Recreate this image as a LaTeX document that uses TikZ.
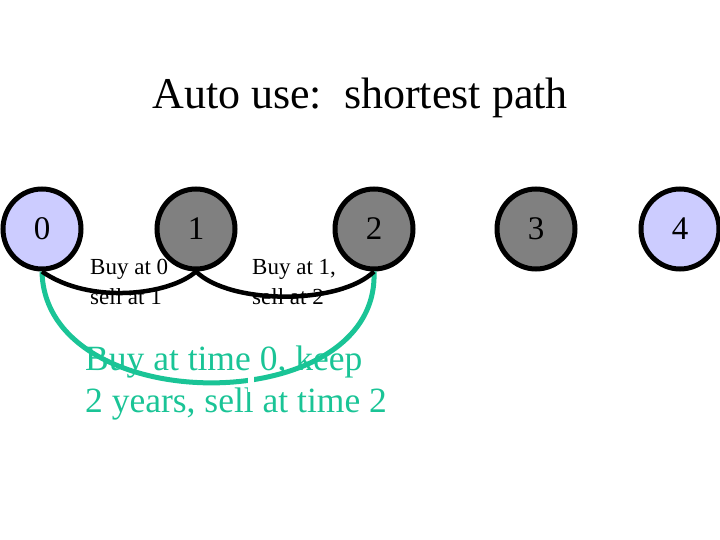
\documentclass[tikz,border=0pt]{standalone}
\usepackage{fontspec}
\setmainfont{Liberation Serif}
\usetikzlibrary{shapes.geometric}
\definecolor{lblue}{RGB}{204,204,255}
\definecolor{dgray}{RGB}{128,128,128}
\definecolor{teal2}{RGB}{26,196,150}
\begin{document}
\begin{tikzpicture}[x=1pt,y=-1pt,
  st/.style={ellipse,draw=black,line width=5pt,minimum width=78pt,minimum height=80pt,inner sep=0pt,font=\fontsize{33}{33}\selectfont},
  edge/.style={line width=4.5pt},
  lbl/.style={anchor=north west,align=left,inner sep=0pt,font=\fontsize{23}{30}\selectfont}]
\useasboundingbox (0,0) rectangle (720,540);
\node[font=\fontsize{44}{44}\selectfont] (title) at (360,98) {Auto use:\ \ shortest path};
\node[st,fill=lblue] (n0) at (42,229) {0};
\node[st,fill=dgray] (n1) at (196,229) {1};
\node[st,fill=dgray] (n2) at (374,229) {2};
\node[st,fill=dgray] (n3) at (536,229) {3};
\node[st,fill=lblue] (n4) at (680,229) {4};
\draw[teal2,line width=5pt] (n0.south) .. controls (45,420) and (380,420) .. (n2.south);
\node[text=teal2,anchor=north west,align=left,inner sep=0pt,font=\fontsize{35.5}{42}\selectfont] (g) at (85,346) {Buy at time 0, keep\\2 years, sell at time 2};
\fill[white] (248,372) rectangle (254,392);
\draw[edge] (n0.south) .. controls (90,305) and (170,295) .. (n1.south);
\draw[edge] (n1.south) .. controls (230,305) and (340,305) .. (n2.south);
\node[lbl] (l1) at (90,259) {Buy at 0\\sell at 1};
\node[lbl] (l2) at (252,259) {Buy at 1,\\sell at 2};
\end{tikzpicture}
\end{document}
